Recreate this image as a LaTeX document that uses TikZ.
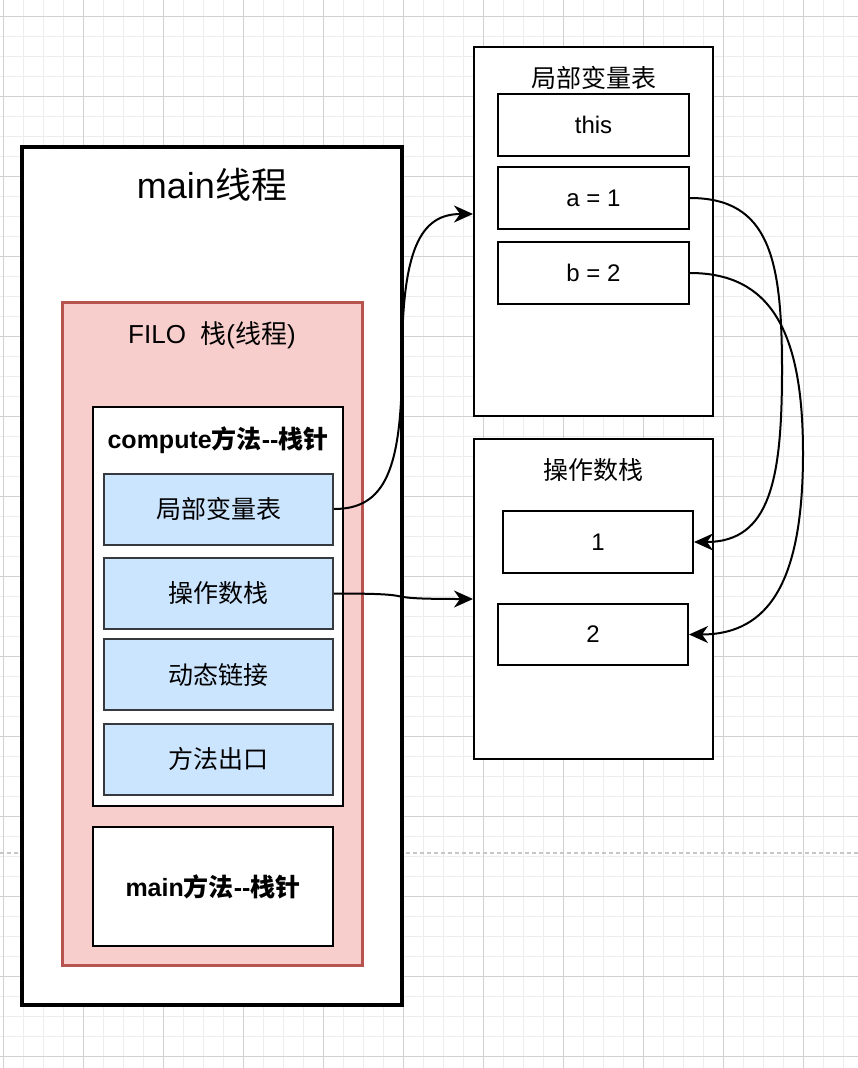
\documentclass[tikz,border=0pt]{standalone}
\usepackage{fontspec}
\setmainfont{Liberation Sans}
\newfontfamily\cjk{Noto Sans CJK SC}
\usetikzlibrary{arrows.meta}
\definecolor{filostroke}{RGB}{184,84,80}
\definecolor{filofill}{RGB}{248,206,204}
\definecolor{bluestroke}{RGB}{54,57,61}
\definecolor{bluefill}{RGB}{204,229,255}
\tikzset{
  gridminor/.style={draw=black!7, line width=0.8pt},
  gridmajor/.style={draw=black!18, line width=0.9pt},
  dashline/.style={draw=black!22, line width=1.3pt, dash pattern=on 4pt off 3pt},
  box/.style={draw=black, fill=white, line width=2pt, inner sep=0pt, rectangle},
  thickbox/.style={box, line width=3.2pt},
  filobox/.style={draw=filostroke, fill=filofill, line width=3pt, inner sep=0pt, rectangle},
  bluebox/.style={draw=bluestroke, fill=bluefill, line width=2pt, inner sep=0pt, rectangle, minimum width=229pt, minimum height=71pt, font=\fontsize{25}{28}\selectfont\cjk},
  valbox/.style={box, minimum width=191pt, minimum height=62pt, font=\fontsize{24}{28}\selectfont},
  lbl/.style={inner sep=0pt, font=\fontsize{25}{28}\selectfont},
  conn/.style={draw=black, line width=2pt, -{Stealth[length=19pt,width=17pt,inset=6pt]}},
}
\begin{document}
\begin{tikzpicture}[x=1pt, y=-1pt]
\useasboundingbox (0,0) rectangle (858,1068);
\fill[white] (0,0) rectangle (858,1068);
% grid
\foreach \x in {3,23,...,843} \draw[gridminor] (\x,0) -- (\x,1068);
\foreach \y in {16,36,...,1056} \draw[gridminor] (0,\y) -- (858,\y);
\foreach \x in {3,83,...,803} \draw[gridmajor] (\x,0) -- (\x,1068);
\foreach \y in {16,96,...,1056} \draw[gridmajor] (0,\y) -- (858,\y);
\draw[dashline] (0,853) -- (858,853);

% left: main thread
\node[thickbox, minimum width=380pt, minimum height=858pt] (mainbox) at (212,576) {};
\node[inner sep=0pt, font=\fontsize{36}{40}\selectfont] (maintitle) at (212,185) {main{\cjk 线程}};
\node[filobox, minimum width=300pt, minimum height=663pt] (filo) at (212,633.5) {};
\node[inner sep=0pt, font=\fontsize{26}{30}\selectfont] (filotitle) at (212,335) {FILO\ \ {\cjk 栈}({\cjk 线程})};
\node[box, minimum width=250pt, minimum height=399pt] (compute) at (218,606.5) {};
\node[inner sep=0pt, font=\fontsize{25}{28}\selectfont\bfseries] (computetitle) at (218,440) {compute{\cjk 方法}-{}-{\cjk 栈针}};
\node[bluebox] (blv) at (218.5,509) {局部变量表};
\node[bluebox] (bos) at (218.5,593.5) {操作数栈};
\node[bluebox] (bdl) at (218.5,674.5) {动态链接};
\node[bluebox] (bme) at (218.5,759) {方法出口};
\node[box, minimum width=240pt, minimum height=119pt, font=\fontsize{25}{28}\selectfont\bfseries] (mainmethod) at (213,886.5) {main{\cjk 方法}-{}-{\cjk 栈针}};

% right: local variable table
\node[box, minimum width=239pt, minimum height=369pt] (lvt) at (593.5,231.5) {};
\node[lbl, font=\fontsize{25}{28}\selectfont\cjk] (lvttitle) at (593.5,78) {局部变量表};
\node[valbox] (this) at (593.5,125) {this};
\node[valbox] (a1) at (593.5,198) {a = 1};
\node[valbox] (b2) at (593.5,273) {b = 2};

% right: operand stack
\node[box, minimum width=239pt, minimum height=320pt] (ost) at (593.5,599) {};
\node[lbl, font=\fontsize{25}{28}\selectfont\cjk] (osttitle) at (593.5,470) {操作数栈};
\node[valbox, minimum width=190pt] (one) at (598,542) {1};
\node[valbox, minimum width=190pt, minimum height=61pt] (two) at (593,634.5) {2};

% connectors
\draw[conn] (blv.east) .. controls (385,509) and (402,470) .. (402,360)
  .. controls (402,250) and (420,214) .. ([yshift=17.5pt]lvt.west);
\draw[conn] (bos.east) .. controls (435,593.5) and (365,599) .. (ost.west);
\draw[conn] (a1.east) .. controls (770,198) and (782,260) .. (782,370)
  .. controls (782,480) and (770,542) .. (one.east);
\draw[conn] (b2.east) .. controls (770,273) and (803,330) .. (803,453)
  .. controls (803,580) and (770,634.5) .. (two.east);
\end{tikzpicture}
\end{document}
